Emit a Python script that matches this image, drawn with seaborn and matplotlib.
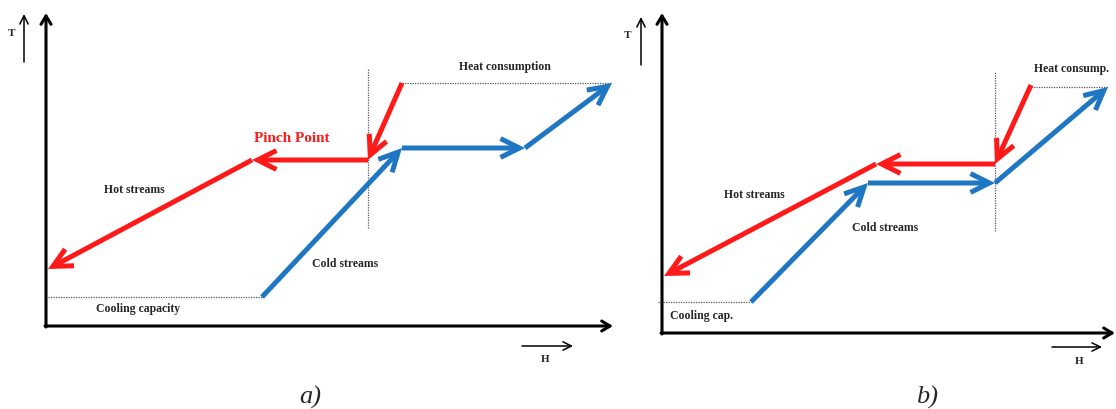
import matplotlib
matplotlib.use("Agg")
import matplotlib.pyplot as plt
import seaborn as sns
import pandas as pd

# ---- data (H, T units) ----
hot_a_H = [356, 322, 206, 2]
hot_a_T = [243, 166, 166, 57]
cold_a_H = [216, 356, 479, 566]
cold_a_T = [29, 178, 178, 243]
cool_a_H = [2, 216]
cool_a_T = [29, 29]
heat_a_H = [356, 566]
heat_a_T = [243, 243]
pinch_a_H = [322, 322]
pinch_a_T = [98, 258]

hot_b_H = [369, 333, 214, 2]
hot_b_T = [248, 169, 169, 57]
cold_b_H = [89, 206, 333, 446]
cold_b_T = [31, 150, 150, 246]
cool_b_H = [-4, 89]
cool_b_T = [31, 31]
heat_b_H = [369, 446]
heat_b_T = [246, 246]
pinch_b_H = [333, 333]
pinch_b_T = [102, 262]

RED = "#ff1a1a"
BLUE = "#1f77c4"

sns.set_theme(style="white")
plt.rcParams["font.family"] = ["Liberation Serif", "DejaVu Serif"]

W, Hpx = 1116, 409
fig = plt.figure(figsize=(W / 100, Hpx / 100), dpi=100)


def make_ax(x0, x1, ytop, ybot):
    ax = fig.add_axes([x0 / W, 1 - ybot / Hpx, (x1 - x0) / W, (ybot - ytop) / Hpx])
    ax.set_xlim(0, x1 - x0)
    ax.set_ylim(0, ybot - ytop)
    ax.axis("off")
    return ax


def stream(ax, Hs, Ts, color):
    for i in range(len(Hs) - 1):
        ax.annotate("", xy=(Hs[i + 1], Ts[i + 1]), xytext=(Hs[i], Ts[i]),
                    arrowprops=dict(arrowstyle="->,head_length=0.8,head_width=0.4",
                                    lw=3.6, color=color, mutation_scale=17,
                                    shrinkA=0, shrinkB=0, joinstyle="miter",
                                    capstyle="butt"),
                    annotation_clip=False)


def guide(ax, Hs, Ts, vertical=False):
    df = pd.DataFrame({"H": Hs, "T": Ts})
    sns.lineplot(data=df, x="H", y="T", ax=ax, sort=False, color="#555555",
                 lw=0.9, linestyle=(0, (1, 1)), orient="y" if vertical else "x")
    ax.lines[-1].set_clip_on(False)
    ax.set_xlabel("")
    ax.set_ylabel("")


def axes_arrows(ax, xmax, ymax, tx, ty0, ty1, Tlab, hx0, hx1, hy, Hlab):
    ap = dict(arrowstyle="->,head_length=0.5,head_width=0.3", lw=2.2, color="black",
              shrinkA=0, shrinkB=0, mutation_scale=12)
    ax.annotate("", xy=(0, ymax), xytext=(0, -1), arrowprops=ap, annotation_clip=False)
    ax.annotate("", xy=(xmax, 0), xytext=(-1, 0), arrowprops=ap, annotation_clip=False)
    ap2 = dict(arrowstyle="->,head_length=0.5,head_width=0.25", lw=1.1, color="black",
               shrinkA=0, shrinkB=0, mutation_scale=12)
    ax.annotate("", xy=(tx, ty1), xytext=(tx, ty0), arrowprops=ap2, annotation_clip=False)
    ax.annotate("", xy=(hx1, hy), xytext=(hx0, hy), arrowprops=ap2, annotation_clip=False)
    ax.text(Tlab[0], Tlab[1], "T", fontsize=8, fontweight="bold", ha="center", va="center")
    ax.text(Hlab[0], Hlab[1], "H", fontsize=8, fontweight="bold", ha="center", va="center")


# ---- panel a ----
axa = make_ax(46, 612, 14, 326)
guide(axa, cool_a_H, cool_a_T)
guide(axa, heat_a_H, heat_a_T)
guide(axa, pinch_a_H, pinch_a_T, vertical=True)
stream(axa, hot_a_H, hot_a_T, RED)
stream(axa, cold_a_H, cold_a_T, BLUE)
axes_arrows(axa, 567, 313, -22, 264, 312, (-34, 292), 476, 527, -20, (499, -33))
axa.text(246, 188, "Pinch Point", color=RED, fontsize=11, fontweight="bold",
         ha="center", va="center")
axa.text(88, 136, "Hot streams", fontsize=8.5, fontweight="bold", ha="center", va="center")
axa.text(299, 62, "Cold streams", fontsize=8.5, fontweight="bold", ha="center", va="center")
axa.text(92, 17, "Cooling capacity", fontsize=8.5, fontweight="bold", ha="center", va="center")
axa.text(459, 259, "Heat consumption", fontsize=8.5, fontweight="bold", ha="center", va="center")
axa.text(264, -71, "a)", fontsize=19, style="italic", ha="center", va="center")

# ---- panel b ----
axb = make_ax(662, 1112, 14, 333)
guide(axb, cool_b_H, cool_b_T)
guide(axb, heat_b_H, heat_b_T)
guide(axb, pinch_b_H, pinch_b_T, vertical=True)
stream(axb, hot_b_H, hot_b_T, RED)
stream(axb, cold_b_H, cold_b_T, BLUE)
axes_arrows(axb, 453, 320, -21, 268, 316, (-34, 298), 390, 440, -14, (417, -28))
axb.text(410, 264, "Heat consump.", fontsize=8.5, fontweight="bold", ha="center", va="center")
axb.text(92, 138, "Hot streams", fontsize=8.5, fontweight="bold", ha="center", va="center")
axb.text(223, 105, "Cold streams", fontsize=8.5, fontweight="bold", ha="center", va="center")
axb.text(40, 17, "Cooling cap.", fontsize=8.5, fontweight="bold", ha="center", va="center")
axb.text(265, -64, "b)", fontsize=19, style="italic", ha="center", va="center")

fig.savefig("out.png", dpi=100, facecolor="white")
